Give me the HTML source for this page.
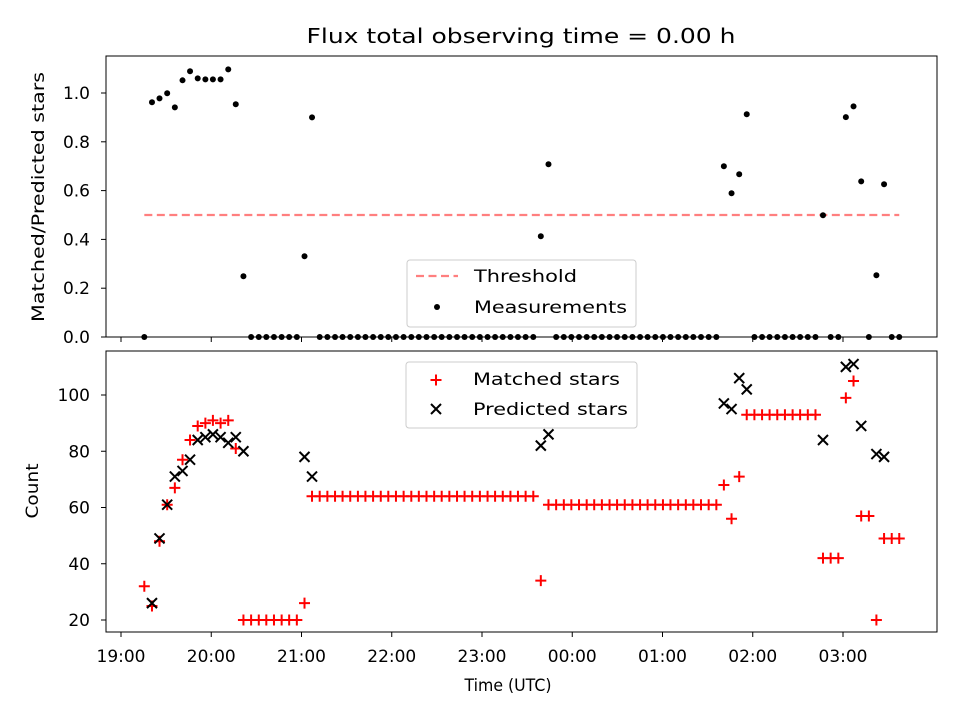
<!DOCTYPE html>
<html><head><meta charset="utf-8"><style>
html,body{margin:0;padding:0;background:#fff;}
svg{display:block;font-family:"DejaVu Sans","Liberation Sans",sans-serif;}
</style></head><body>
<svg id="chart" width="960" height="720" viewBox="0 0 960 720" xmlns="http://www.w3.org/2000/svg">
<rect width="960" height="720" fill="#fff"/>
<text x="521" y="43" font-size="20" text-anchor="middle" textLength="429" lengthAdjust="spacingAndGlyphs">Flux total observing time = 0.00 h</text>
<g id="topPanel"></g>
<g id="botPanel"></g>
<text transform="translate(44,197) rotate(-90)" font-size="17" text-anchor="middle" textLength="250" lengthAdjust="spacingAndGlyphs">Matched/Predicted stars</text>
<text transform="translate(38,491) rotate(-90)" font-size="17" text-anchor="middle" textLength="55" lengthAdjust="spacingAndGlyphs">Count</text>
<text x="508" y="691" font-size="17" text-anchor="middle" textLength="87" lengthAdjust="spacingAndGlyphs">Time (UTC)</text>
</svg>
<script>
// minutes since 19:00 UTC
const times = [15.5,20.6,25.6,30.7,35.8,40.9,45.9,51.0,56.1,61.1,66.2,71.3,76.3,81.4,86.5,91.6,96.6,101.7,106.8,111.8,116.9,122.0,127.0,132.1,137.2,142.3,147.3,152.4,157.5,162.5,167.6,172.7,177.7,182.8,187.9,193.0,198.0,203.1,208.2,213.2,218.3,223.4,228.4,233.5,238.6,243.7,248.7,253.8,258.9,263.9,269.0,274.1,279.1,284.2,289.3,294.4,299.4,304.5,309.6,314.6,319.7,324.8,329.8,334.9,340.0,345.1,350.1,355.2,360.3,365.3,370.4,375.5,380.5,385.6,390.7,395.8,400.8,405.9,411.0,416.0,421.1,426.2,431.2,436.3,441.4,446.5,451.5,456.6,461.7,466.7,471.8,476.9,481.9,487.0,492.1,497.2,502.2,507.3,512.4,517.4];
const ratio = [0,0.962,0.978,0.999,0.941,1.052,1.089,1.060,1.056,1.056,1.056,1.097,0.954,0.249,0,0,0,0,0,0,0,0.331,0.900,0,0,0,0,0,0,0,0,0,0,0,0,0,0,0,0,0,0,0,0,0,0,0,0,0,0,0,0,0,0.413,0.708,0,0,0,0,0,0,0,0,0,0,0,0,0,0,0,0,0,0,0,0,0,0,0.700,0.589,0.667,0.913,0,0,0,0,0,0,0,0,0,0.499,0,0,0.901,0.945,0.638,0,0.253,0.626,0,0];
const matched = [32,25,48,61,67,77,84,89,90,91,90,91,81,20,20,20,20,20,20,20,20,26,64,64,64,64,64,64,64,64,64,64,64,64,64,64,64,64,64,64,64,64,64,64,64,64,64,64,64,64,64,64,34,61,61,61,61,61,61,61,61,61,61,61,61,61,61,61,61,61,61,61,61,61,61,61,68,56,71,93,93,93,93,93,93,93,93,93,93,42,42,42,99,105,57,57,20,49,49,49];
const predicted = [null,26,49,61,71,73,77,84,85,86,85,83,85,80,null,null,null,null,null,null,null,78,71,null,null,null,null,null,null,null,null,null,null,null,null,null,null,null,null,null,null,null,null,null,null,null,null,null,null,null,null,null,82,86,null,null,null,null,null,null,null,null,null,null,null,null,null,null,null,null,null,null,null,null,null,null,97,95,106,102,null,null,null,null,null,null,null,null,null,84,null,null,110,111,89,null,79,78,null,null];
const threshold = 0.5;
const xTickLabels = ["19:00","20:00","21:00","22:00","23:00","00:00","01:00","02:00","03:00"];
const topTicks = [0.0,0.2,0.4,0.6,0.8,1.0];
const botTicks = [20,40,60,80,100];

const NS="http://www.w3.org/2000/svg";
const L=106,R=937;
const X=m=>121+m/60*90.25;
const Ytop=v=>337-v*244;
const Ybot=v=>620-(v-20)*2.8125;
function mk(tag,attrs,parent){const e=document.createElementNS(NS,tag);for(const k in attrs)e.setAttribute(k,attrs[k]);parent.appendChild(e);return e;}
const topG=document.getElementById('topPanel'), botG=document.getElementById('botPanel');

function axes(g,y0,y1,name){
  const f=mk('rect',{x:L,y:y0,width:R-L,height:y1-y0,fill:'none',stroke:'#000','stroke-width':1},g);
  
  
  xTickLabels.forEach((t,i)=>{
    const x=X(i*60);
    const tk=mk('line',{x1:x,x2:x,y1:y1,y2:y1+5,stroke:'#000','stroke-width':1},g);
    
    
  });
}
axes(topG,56,337,'top-axes');
axes(botG,351,632,'bottom-axes');

xTickLabels.forEach((t,i)=>{
  const tx=mk('text',{x:X(i*60),y:662,'font-size':17,'text-anchor':'middle'},botG);
  tx.textContent=t;
  
  
});
topTicks.forEach(v=>{
  const y=Ytop(v);
  const tk=mk('line',{x1:L-5,x2:L,y1:y,y2:y,stroke:'#000'},topG);
  
  
  const tx=mk('text',{x:90,y:y+6,'font-size':17,'text-anchor':'end'},topG);
  tx.textContent=v.toFixed(1);
  
  
});
botTicks.forEach(v=>{
  const y=Ybot(v);
  const tk=mk('line',{x1:L-5,x2:L,y1:y,y2:y,stroke:'#000'},botG);
  
  
  const tx=mk('text',{x:90,y:y+6,'font-size':17,'text-anchor':'end'},botG);
  tx.textContent=String(v);
  
  
});

const th=mk('line',{x1:X(times[0]),x2:X(times[times.length-1]),y1:Ytop(threshold),y2:Ytop(threshold),stroke:'#ff7f7f','stroke-width':2.2,'stroke-dasharray':'8 4.5'},topG);



times.forEach((t,i)=>{
  const c=mk('circle',{cx:X(t),cy:Ytop(ratio[i]),r:3,fill:'#000'},topG);
  
  
});

function plus(g,x,y,col,name){
  const p=mk('path',{d:`M${x-5.5},${y}H${x+5.5}M${x},${y-5.5}V${y+5.5}`,stroke:col,'stroke-width':2,fill:'none'},g);
  
  
}
function cross(g,x,y,col,name){
  const p=mk('path',{d:`M${x-5},${y-5}L${x+5},${y+5}M${x-5},${y+5}L${x+5},${y-5}`,stroke:col,'stroke-width':2,fill:'none'},g);
  
  
}
times.forEach((t,i)=>{ plus(botG,X(t),Ybot(matched[i]),'#f00','matched-star-point'); });
times.forEach((t,i)=>{ if(predicted[i]!==null) cross(botG,X(t),Ybot(predicted[i]),'#000','predicted-star-point'); });

function legend(g,x,y,w,h,name){
  const r=mk('rect',{x:x,y:y,width:w,height:h,rx:3,fill:'rgba(255,255,255,0.8)',stroke:'#ccc','stroke-width':1},g);
  
  
}
legend(topG,407,260,229,67,'top-legend');
const ll=mk('line',{x1:416,x2:458,y1:276,y2:276,stroke:'#ff7f7f','stroke-width':2.2,'stroke-dasharray':'8 4.5'},topG);


let t1=mk('text',{x:474,y:282,'font-size':17,textLength:103,lengthAdjust:'spacingAndGlyphs'},topG);t1.textContent='Threshold';


const lc=mk('circle',{cx:437,cy:307,r:3,fill:'#000'},topG);


let t2=mk('text',{x:474,y:313,'font-size':17,textLength:153,lengthAdjust:'spacingAndGlyphs'},topG);t2.textContent='Measurements';



legend(botG,406,362,231,66,'bottom-legend');
plus(botG,436,380,'#f00','legend-matched-swatch');
let t3=mk('text',{x:473,y:385,'font-size':17,textLength:147,lengthAdjust:'spacingAndGlyphs'},botG);t3.textContent='Matched stars';


cross(botG,436,409,'#000','legend-predicted-swatch');
let t4=mk('text',{x:473,y:415,'font-size':17,textLength:155,lengthAdjust:'spacingAndGlyphs'},botG);t4.textContent='Predicted stars';


</script>
</body></html>
